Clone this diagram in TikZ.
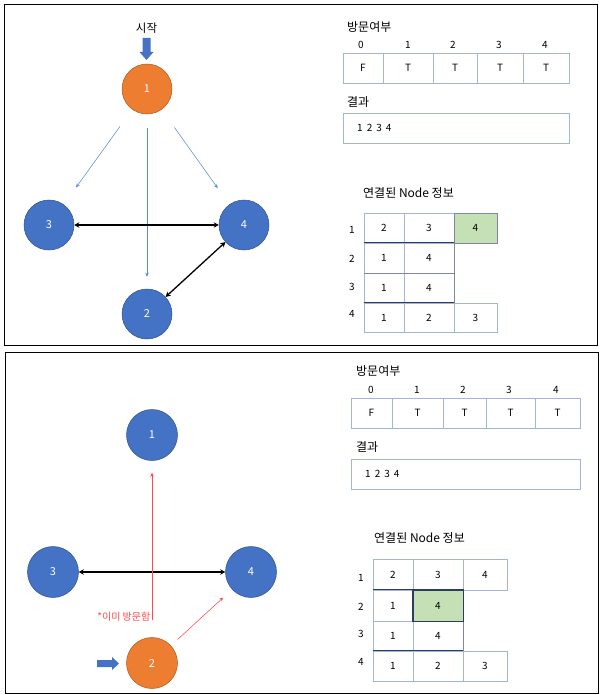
\documentclass[tikz,border=0pt]{standalone}
\usepackage{fontspec}
\setmainfont{Noto Sans CJK KR}
\usetikzlibrary{arrows.meta}
\definecolor{nodeblue}{HTML}{4472C4}
\definecolor{nodeblueb}{HTML}{2F528F}
\definecolor{nodeorange}{HTML}{ED7D31}
\definecolor{nodeorangeb}{HTML}{AE5A21}
\definecolor{thinbluec}{HTML}{5B8BD6}
\definecolor{gridc}{HTML}{A3B4D8}
\definecolor{darkgrid}{HTML}{2E3D5C}
\definecolor{midgrid}{HTML}{7F8799}
\definecolor{greenc}{HTML}{C5E0B4}
\definecolor{redc}{HTML}{FF4B4B}
\tikzset{
  gnode/.style={circle, minimum size=50pt, inner sep=0pt, line width=0.5pt, text=white, font=\fontsize{11}{13}\selectfont},
  bluen/.style={gnode, fill=nodeblue, draw=nodeblueb},
  orangen/.style={gnode, fill=nodeorange, draw=nodeorangeb},
  cellbox/.style={draw=gridc, line width=0.7pt, minimum height=30pt, inner sep=0pt, font=\fontsize{10}{12}\selectfont},
  greencell/.style={cellbox, fill=greenc, draw=midgrid},
  lbl/.style={inner sep=0pt, font=\fontsize{12}{14}\selectfont},
  idx/.style={inner sep=0pt, font=\fontsize{10}{12}\selectfont},
  thinblue/.style={draw=thinbluec, line width=0.55pt, -{Stealth[length=4pt,width=3.5pt]}},
  thinred/.style={draw=redc, line width=0.55pt, -{Stealth[length=4pt,width=3.5pt]}},
  dbl/.style={draw=black, line width=1.3pt, {Stealth[length=5pt,width=5.5pt]}-{Stealth[length=5pt,width=5.5pt]}},
  frame/.style={draw=black, line width=1pt}
}
\newcommand{\resseq}{1\hspace{4pt}2\hspace{4pt}3\hspace{4pt}4}
\begin{document}
\begin{tikzpicture}[x=1pt,y=-1pt]
\useasboundingbox (0,0) rectangle (603,695);
% frames
\draw[frame] (4.5,5) rectangle (597.5,345);
\draw[frame] (5,352) rectangle (598,693);

% ===== top panel graph =====
\node[lbl, font=\fontsize{11.5}{13}\selectfont] (start) at (146.5,28) {시작};
\fill[nodeblue] (142.5,38) -- (150.5,38) -- (150.5,52) -- (153.5,52) -- (146.5,60) -- (139.5,52) -- (142.5,52) -- cycle;
\node[orangen] (a1) at (147,89) {1};
\node[bluen] (a3) at (49,225) {3};
\node[bluen] (a4) at (244,225) {4};
\node[bluen] (a2) at (147,314) {2};
\draw[thinblue, shorten <=21pt, shorten >=21pt] (a1) -- (a3);
\draw[thinblue, shorten <=14pt, shorten >=12pt] (a1) -- (a2);
\draw[thinblue, shorten <=22pt, shorten >=20pt] (a1) -- (a4);
\draw[dbl] (a3) -- (a4);
\draw[dbl] (a2) -- (a4);

% ===== top panel tables =====
\node[lbl, anchor=west] (tv) at (347,27) {방문여부};
\node[cellbox, minimum width=40pt] (tc0) at (363,68) {F};
\node[cellbox, minimum width=50pt] (tc1) at (408,68) {T};
\node[cellbox, minimum width=44pt] (tc2) at (455,68) {T};
\node[cellbox, minimum width=46pt] (tc3) at (500,68) {T};
\node[cellbox, minimum width=46pt] (tc4) at (546,68) {T};
\node[idx] (ti0) at (361,45) {0};
\node[idx] (ti1) at (408,45) {1};
\node[idx] (ti2) at (453,45) {2};
\node[idx] (ti3) at (499,45) {3};
\node[idx] (ti4) at (545,45) {4};
\node[lbl, anchor=west] (tr) at (347,102) {결과};
\node[cellbox, minimum width=226pt] (trbox) at (456,128) {};
\node[idx, anchor=west] (trtext) at (357,128) {\resseq};
\node[lbl, anchor=west] (tn) at (363,193) {연결된 Node 정보};
\node[cellbox, minimum width=40pt] (t11) at (384,228) {2};
\node[cellbox, minimum width=50pt] (t12) at (429,228) {3};
\node[greencell, minimum width=43pt] (t13) at (475.5,228) {4};
\node[cellbox, minimum width=40pt] (t21) at (384,258) {1};
\node[cellbox, minimum width=50pt] (t22) at (429,258) {4};
\node[cellbox, minimum width=40pt] (t31) at (384,288) {1};
\node[cellbox, minimum width=50pt] (t32) at (429,288) {4};
\node[cellbox, minimum width=40pt, minimum height=29pt] (t41) at (384,317.5) {1};
\node[cellbox, minimum width=50pt, minimum height=29pt] (t42) at (429,317.5) {2};
\node[cellbox, minimum width=43pt, minimum height=29pt] (t43) at (475.5,317.5) {3};
\draw[darkgrid, line width=0.8pt] (t21.north west) -- (t22.north east);
\draw[darkgrid, line width=0.8pt] (t41.north west) -- (t42.north east);
\draw[midgrid, line width=0.7pt] (t22.north east) -- (t32.south east);
\draw[midgrid, line width=0.7pt] (t21.south west) -- (t22.south east);
\node[idx] (tl1) at (352,230) {1};
\node[idx] (tl2) at (352,259) {2};
\node[idx] (tl3) at (352,287) {3};
\node[idx] (tl4) at (352,314) {4};

% ===== bottom panel graph =====
\node[bluen, minimum size=51pt] (b1) at (152,435) {1};
\node[bluen, minimum size=51pt] (b3) at (53,572) {3};
\node[bluen, minimum size=51pt] (b4) at (251,572) {4};
\node[orangen, minimum size=51pt] (b2) at (152,663) {2};
\fill[nodeblue] (97,660) -- (112,660) -- (112,657) -- (119,663.5) -- (112,670) -- (112,667) -- (97,667) -- cycle;
\draw[dbl] (b3) -- (b4);
\draw[thinred, shorten <=17pt, shorten >=12pt] (b2) -- (b1);
\draw[thinred, shorten <=9pt, shorten >=12pt] (b2) -- (b4);
\node[inner sep=0pt, anchor=east, text=redc, font=\fontsize{10}{12}\selectfont] (visited) at (150.5,617) {*이미 방문함};

% ===== bottom panel tables =====
\node[lbl, anchor=west] (bv) at (356,371) {방문여부};
\node[cellbox, minimum width=41pt] (bc0) at (371.5,413) {F};
\node[cellbox, minimum width=51pt] (bc1) at (417.5,413) {T};
\node[cellbox, minimum width=43pt] (bc2) at (464.5,413) {T};
\node[cellbox, minimum width=49pt] (bc3) at (510.5,413) {T};
\node[cellbox, minimum width=45pt] (bc4) at (557.5,413) {T};
\node[idx] (bi0) at (371,390) {0};
\node[idx] (bi1) at (417,390) {1};
\node[idx] (bi2) at (463,390) {2};
\node[idx] (bi3) at (509,390) {3};
\node[idx] (bi4) at (556,390) {4};
\node[lbl, anchor=west] (br) at (356,447) {결과};
\node[cellbox, minimum width=229pt] (brbox) at (465.5,474) {};
\node[idx, anchor=west] (brtext) at (365,474) {\resseq};
\node[lbl, anchor=west] (bn) at (374,538) {연결된 Node 정보};
\node[cellbox, minimum width=40pt, minimum height=31pt] (b11) at (393,574.5) {2};
\node[cellbox, minimum width=50pt, minimum height=31pt] (b12) at (438,574.5) {3};
\node[cellbox, minimum width=44pt, minimum height=31pt] (b13) at (485,574.5) {4};
\node[cellbox, minimum width=40pt, minimum height=31pt] (b21) at (393,605.5) {1};
\node[greencell, minimum width=50pt, minimum height=31pt, draw=darkgrid] (b22) at (438,605.5) {4};
\node[cellbox, minimum width=40pt] (b31) at (393,636) {1};
\node[cellbox, minimum width=50pt] (b32) at (438,636) {4};
\node[cellbox, minimum width=40pt] (b41) at (393,666) {1};
\node[cellbox, minimum width=50pt] (b42) at (438,666) {2};
\node[cellbox, minimum width=44pt] (b43) at (485,666) {3};
\draw[darkgrid, line width=0.8pt] (b21.north west) -- (b21.north east);
\draw[darkgrid, line width=0.8pt] (b41.north west) -- (b42.north east);
\draw[midgrid, line width=0.7pt] (b22.south east) -- (b32.south east);
\draw[darkgrid, line width=0.8pt] (b22.north west) rectangle (b22.south east);
\node[idx] (bl1) at (361,578) {1};
\node[idx] (bl2) at (361,607) {2};
\node[idx] (bl3) at (361,634) {3};
\node[idx] (bl4) at (361,662) {4};
\end{tikzpicture}
\end{document}
